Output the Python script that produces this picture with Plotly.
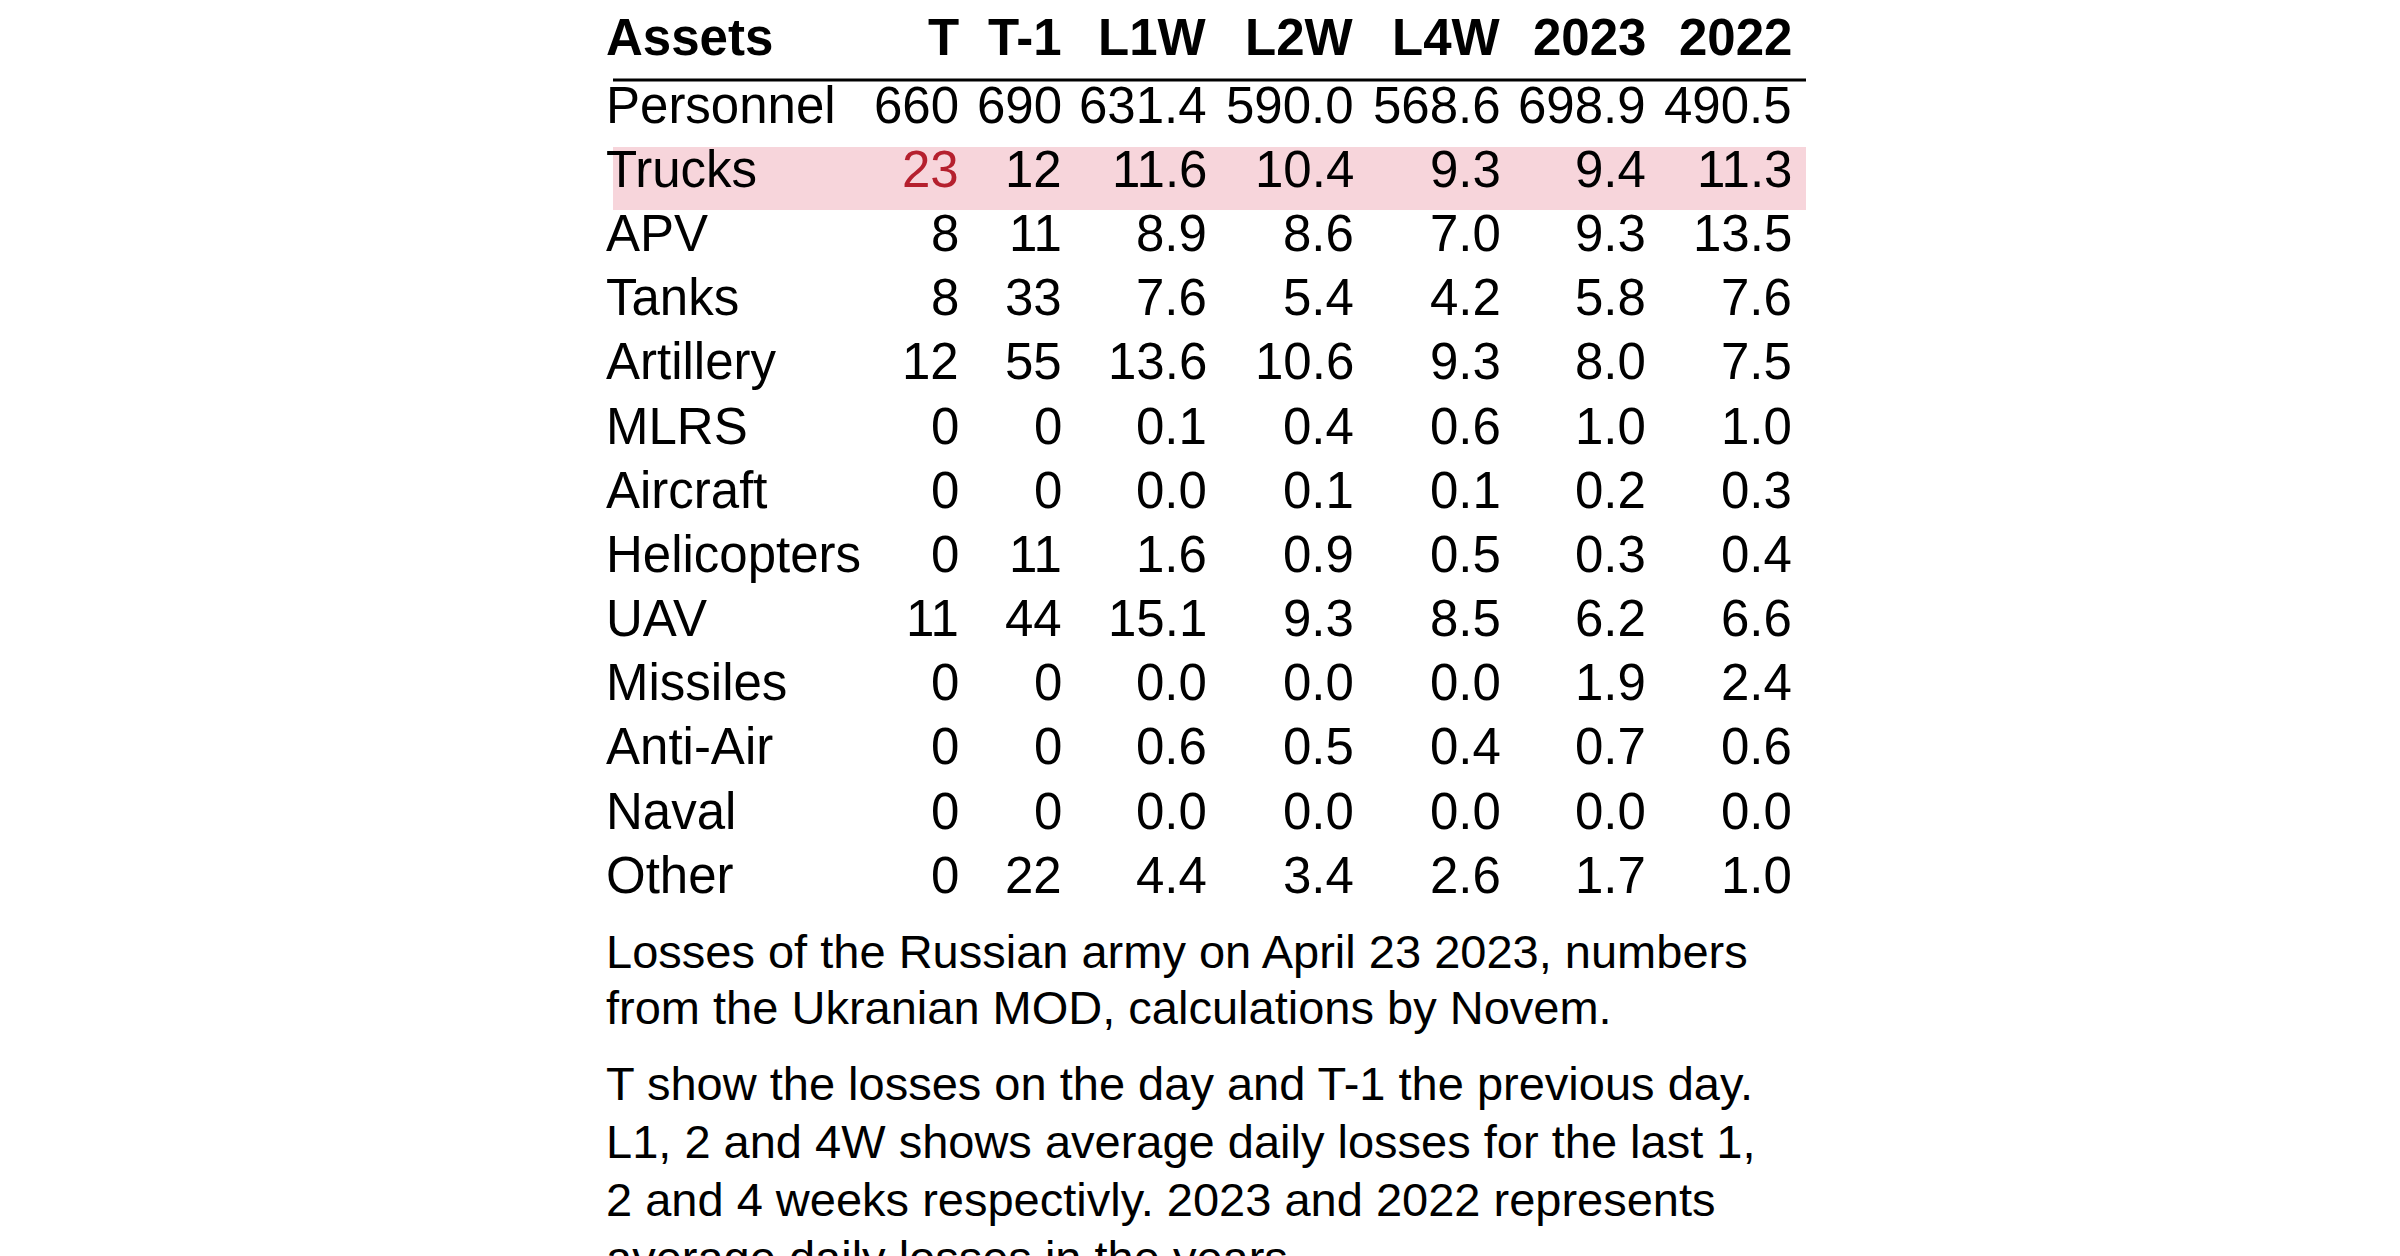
import plotly.graph_objects as go

assets = ["Personnel", "Trucks", "APV", "Tanks", "Artillery", "MLRS", "Aircraft",
          "Helicopters", "UAV", "Missiles", "Anti-Air", "Naval", "Other"]
columns = ["T", "T-1", "L1W", "L2W", "L4W", "2023", "2022"]
t_vals = ["660", "23", "8", "8", "12", "0", "0", "0", "11", "0", "0", "0", "0"]
t1_vals = ["690", "12", "11", "33", "55", "0", "0", "11", "44", "0", "0", "0", "22"]
l1w = [631.4, 11.6, 8.9, 7.6, 13.6, 0.1, 0.0, 1.6, 15.1, 0.0, 0.6, 0.0, 4.4]
l2w = [590.0, 10.4, 8.6, 5.4, 10.6, 0.4, 0.1, 0.9, 9.3, 0.0, 0.5, 0.0, 3.4]
l4w = [568.6, 9.3, 7.0, 4.2, 9.3, 0.6, 0.1, 0.5, 8.5, 0.0, 0.4, 0.0, 2.6]
y2023 = [698.9, 9.4, 9.3, 5.8, 8.0, 1.0, 0.2, 0.3, 6.2, 1.9, 0.7, 0.0, 1.7]
y2022 = [490.5, 11.3, 13.5, 7.6, 7.5, 1.0, 0.3, 0.4, 6.6, 2.4, 0.6, 0.0, 1.0]
highlight = "Trucks"
caption1 = ["Losses of the Russian army on April 23 2023, numbers",
            "from the Ukranian MOD, calculations by Novem."]
caption2 = ["T show the losses on the day and T-1 the previous day.",
            "L1, 2 and 4W shows average daily losses for the last 1,",
            "2 and 4 weeks respectivly. 2023 and 2022 represents",
            "average daily losses in the years."]

FONT = "Arial"
left, right = 605, 1798
txt_left = 596
col_right = [953, 1056, 1201, 1348, 1495, 1640, 1786]
header_y, row0, step = 29, 97, 64.2

fig = go.Figure()
ann = []
ann.append(dict(x=txt_left, y=header_y, text="<b>Assets</b>", xanchor="left"))
for c, xr in zip(columns, col_right):
    ann.append(dict(x=xr, y=header_y, text="<b>%s</b>" % c, xanchor="right"))

cols = [t_vals, t1_vals] + [["%.1f" % v for v in s] for s in (l1w, l2w, l4w, y2023, y2022)]
shapes = [dict(type="line", x0=left, x1=right, y0=72, y1=72, line=dict(color="black", width=3))]
for i, a in enumerate(assets):
    y = row0 + i * step
    if a == highlight:
        shapes.append(dict(type="rect", x0=left, x1=right, y0=139, y1=202,
                           fillcolor="#f7d5db", line=dict(width=0), layer="below"))
    ann.append(dict(x=txt_left, y=y, text=a, xanchor="left"))
    for j, (col, xr) in enumerate(zip(cols, col_right)):
        color = "#b5202e" if (a == highlight and j == 0) else "black"
        ann.append(dict(x=xr, y=y, text=col[i], xanchor="right", font=dict(color=color)))

cy = 943
for line in caption1:
    ann.append(dict(x=txt_left, y=cy, text=line, xanchor="left", font=dict(size=47)))
    cy += 56
cy += 20
for line in caption2:
    ann.append(dict(x=txt_left, y=cy, text=line, xanchor="left", font=dict(size=47)))
    cy += 58

for a in ann:
    a.setdefault("font", {})
    a["font"].setdefault("size", 51)
    a["font"].setdefault("color", "black")
    a.update(showarrow=False, yanchor="middle", xref="paper", yref="paper",
             x=a["x"] / 2400, y=1 - a["y"] / 1256)

fig.update_layout(
    width=2400, height=1256, margin=dict(l=0, r=0, t=0, b=0),
    paper_bgcolor="white", plot_bgcolor="white", font=dict(family=FONT),
    xaxis=dict(range=[0, 2400], visible=False),
    yaxis=dict(range=[1256, 0], visible=False),
    annotations=ann, shapes=shapes, showlegend=False,
)
fig.write_html("out.html")
